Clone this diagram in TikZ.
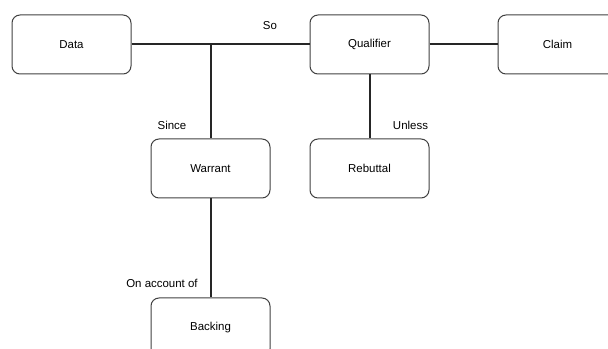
\documentclass[tikz,border=0pt]{standalone}
\usepackage{fontspec}
\setmainfont{Liberation Sans}

\begin{document}
\begin{tikzpicture}[x=0.75pt,y=-0.75pt,
	font=\fontsize{8.6}{10}\selectfont,
	box/.style={draw=black!75, line width=0.75pt, rounded corners=6pt,
		minimum width=89.25pt, minimum height=44.25pt, inner sep=0pt},
	link/.style={draw=black!85, line width=1.5pt}]
	\clip (0,0) rectangle (608,349);
	% boxes
	\node[box] (data) at (71.5,44.5) {Data};
	\node[box] (qualifier) at (369.5,44.5) {Qualifier};
	\node[box] (claim) at (557.5,44.5) {Claim};
	\node[box] (warrant) at (210.5,168.5) {Warrant};
	\node[box] (rebuttal) at (369.5,168.5) {Rebuttal};
	\node[box] (backing) at (210.5,327.5) {Backing};
	
	% connectors
	\coordinate (joint) at (210.5,44.5);
	\draw[link] (data) -- (qualifier);
	\draw[link] (qualifier) -- (claim);
	\draw[link] (joint) -- (warrant);
	\draw[link] (warrant) -- (backing);
	\draw[link] (qualifier) -- (rebuttal);
	
	% labels
	\node (so) at (270,26) {So};
	\node (since) at (172,125) {Since};
	\node (unless) at (410.5,125) {Unless};
	\node (onaccount) at (162,283) {On account of};
\end{tikzpicture}
\end{document}
